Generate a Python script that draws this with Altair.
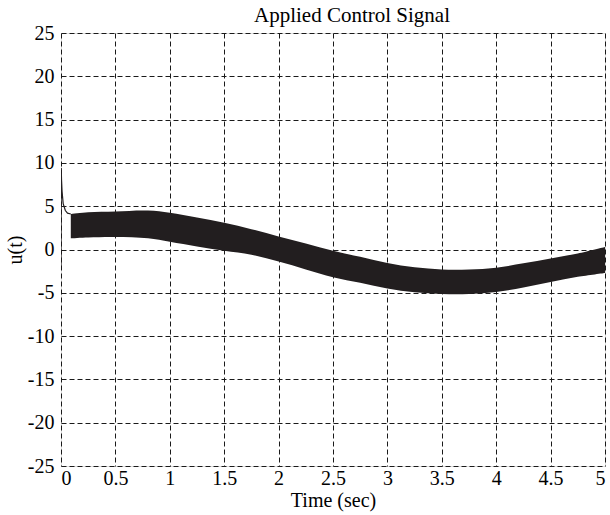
import altair as alt
import pandas as pd

# ---- data ----
band_t = [0.09, 0.25, 0.5, 0.8, 1.0, 1.25, 1.5, 1.75, 2.0, 2.25, 2.5, 2.75, 3.0, 3.25, 3.5, 3.75, 4.0, 4.25, 4.5, 4.75, 5.0]
band_upper = [4.1, 4.3, 4.4, 4.5, 4.25, 3.7, 3.1, 2.35, 1.5, 0.7, -0.15, -0.85, -1.55, -2.05, -2.3, -2.3, -2.1, -1.6, -1.05, -0.45, 0.3]
band_lower = [1.3, 1.4, 1.45, 1.3, 0.9, 0.35, -0.15, -0.6, -1.4, -2.3, -3.2, -3.85, -4.5, -4.95, -5.15, -5.15, -4.9, -4.4, -3.75, -3.15, -2.7]

trans_t = [0.0, 0.002, 0.005, 0.01, 0.02, 0.04, 0.06, 0.09]
trans_u = [-2.0, 9.4, 8.0, 6.7, 5.3, 4.5, 4.2, 4.1]

x_ticks = [0, 0.5, 1, 1.5, 2, 2.5, 3, 3.5, 4, 4.5, 5]
y_ticks = [-25, -20, -15, -10, -5, 0, 5, 10, 15, 20, 25]

band_df = pd.DataFrame({"t": band_t, "upper": band_upper, "lower": band_lower})
trans_df = pd.DataFrame({"t": trans_t, "u": trans_u})

FONT = "Liberation Serif"
FS = 20
xs = alt.Scale(domain=[0, 5], nice=False, zero=False)
ys = alt.Scale(domain=[-25, 25], nice=False, zero=False)

common = dict(labelExpr="toString(datum.value)", grid=True, gridDash=[5, 3], gridColor="#1a1a1a",
              gridWidth=1, ticks=False, domain=False,
              labelFont=FONT, labelFontSize=FS, labelColor="black",
              titleFont=FONT, titleFontSize=FS, titleFontWeight="normal", titleColor="black")
x_axis = alt.Axis(values=x_ticks, title="Time (sec)", labelPadding=2, titlePadding=2, **common)
y_axis = alt.Axis(values=y_ticks, title="u(t)", labelPadding=7, titlePadding=2, **common)

band = alt.Chart(band_df).mark_area(color="#221e1f", opacity=1, interpolate="catmull-rom", clip=True).encode(
    x=alt.X("t:Q", scale=xs, axis=x_axis),
    y=alt.Y("upper:Q", scale=ys, axis=y_axis),
    y2="lower:Q",
)

trans = alt.Chart(trans_df).mark_line(color="#221e1f", strokeWidth=1.2, clip=True).encode(
    x=alt.X("t:Q", scale=xs),
    y=alt.Y("u:Q", scale=ys),
)

chart = alt.layer(band, trans).properties(
    width=544, height=433,
    title=alt.TitleParams("Applied Control Signal", font=FONT, fontSize=21, fontWeight="normal",
                          color="black", offset=12, frame="group", dy=15, dx=19),
    autosize=alt.AutoSizeParams(type="none"),
    padding={"left": 61, "top": 33, "right": 5, "bottom": 49},
).configure_view(stroke="black", strokeWidth=1).configure(background="white")

chart.save("out.html", embed_options={"renderer": "svg", "actions": False})
